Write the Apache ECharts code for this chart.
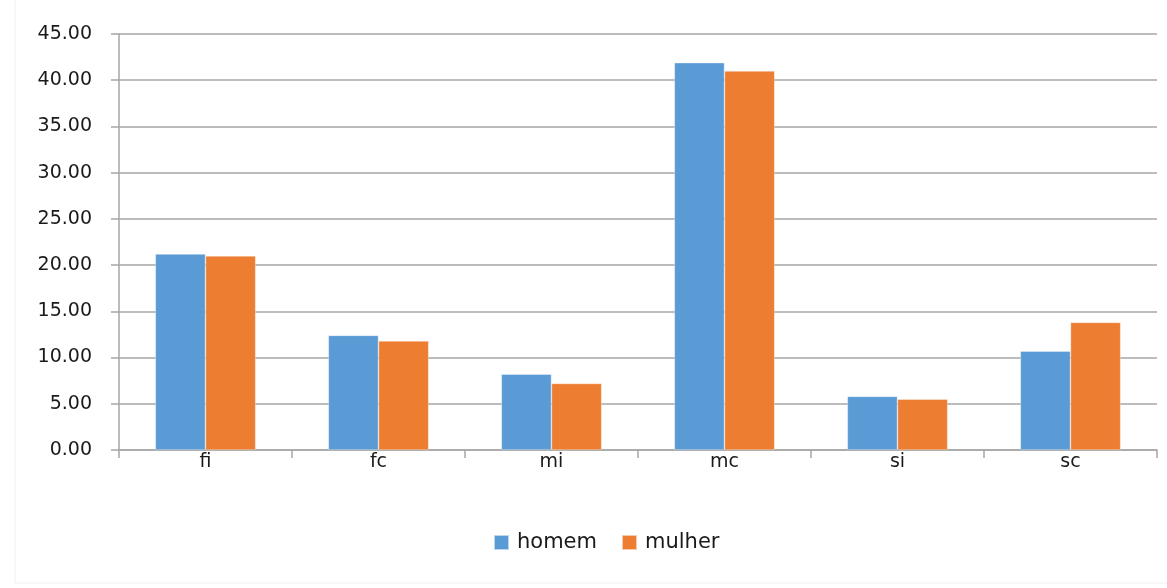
<!DOCTYPE html>
<html>
<head>
<meta charset="utf-8">
<script src="https://cdn.jsdelivr.net/npm/echarts@6/dist/echarts.min.js"></script>
<style>
  html, body { margin: 0; padding: 0; background: #fff; }
  #chart { width: 1167px; height: 588px; }
</style>
</head>
<body>
<div id="chart"></div>
<script>
// Categories and values per sex
const categories = ['fi', 'fc', 'mi', 'mc', 'si', 'sc'];
const homem = [21.2, 12.4, 8.2, 41.9, 5.8, 10.7];
const mulher = [21.0, 11.8, 7.2, 41.0, 5.5, 13.8];
const seriesNames = ['homem', 'mulher'];

const FONT = '"DejaVu Sans", "Open Sans", sans-serif';
const chart = echarts.init(document.getElementById('chart'), null, { renderer: 'canvas' });

chart.setOption({
  animation: false,
  backgroundColor: '#fff',
  color: ['#5B9BD5', '#ED7D31'],
  graphic: [{
    type: 'rect',
    shape: { x: 15, y: -2, width: 1160, height: 585 },
    style: { fill: 'none', stroke: '#f0f0f0', lineWidth: 1 },
    silent: true
  }],
  grid: { left: 119, right: 10, top: 34, bottom: 138, containLabel: false },
  legend: {
    data: seriesNames,
    top: 527,
    left: 488,
    itemWidth: 15,
    itemHeight: 15,
    itemGap: 24,
    icon: 'rect',
    textStyle: { fontFamily: FONT, fontSize: 21, color: '#1a1a1a', padding: [0, 0, 0, 3] }
  },
  xAxis: {
    type: 'category',
    data: categories,
    boundaryGap: true,
    axisLine: { lineStyle: { color: '#a6a6a6', width: 1.5 } },
    axisTick: { show: true, length: 8, alignWithLabel: false, lineStyle: { color: '#a6a6a6', width: 1.5 } },
    axisLabel: { fontFamily: FONT, fontSize: 19, color: '#1a1a1a', margin: 3 }
  },
  yAxis: {
    type: 'value',
    min: 0,
    max: 45,
    interval: 5,
    axisLine: { show: true, lineStyle: { color: '#a6a6a6', width: 1.5 } },
    axisTick: { show: true, length: 8, lineStyle: { color: '#a6a6a6', width: 1.5 } },
    axisLabel: {
      fontFamily: FONT, fontSize: 19, color: '#1a1a1a', margin: 27,
      formatter: v => v.toFixed(2)
    },
    splitLine: { show: true, lineStyle: { color: '#a6a6a6', width: 1.5 } }
  },
  series: [
    {
      name: seriesNames[0], type: 'bar', data: homem,
      barGap: '0%', barCategoryGap: '42%',
      itemStyle: { borderColor: 'rgba(255,255,255,0.6)', borderWidth: 0.6 }
    },
    {
      name: seriesNames[1], type: 'bar', data: mulher,
      barGap: '0%', barCategoryGap: '42%',
      itemStyle: { borderColor: 'rgba(255,255,255,0.6)', borderWidth: 0.6 }
    }
  ]
});
</script>
</body>
</html>
